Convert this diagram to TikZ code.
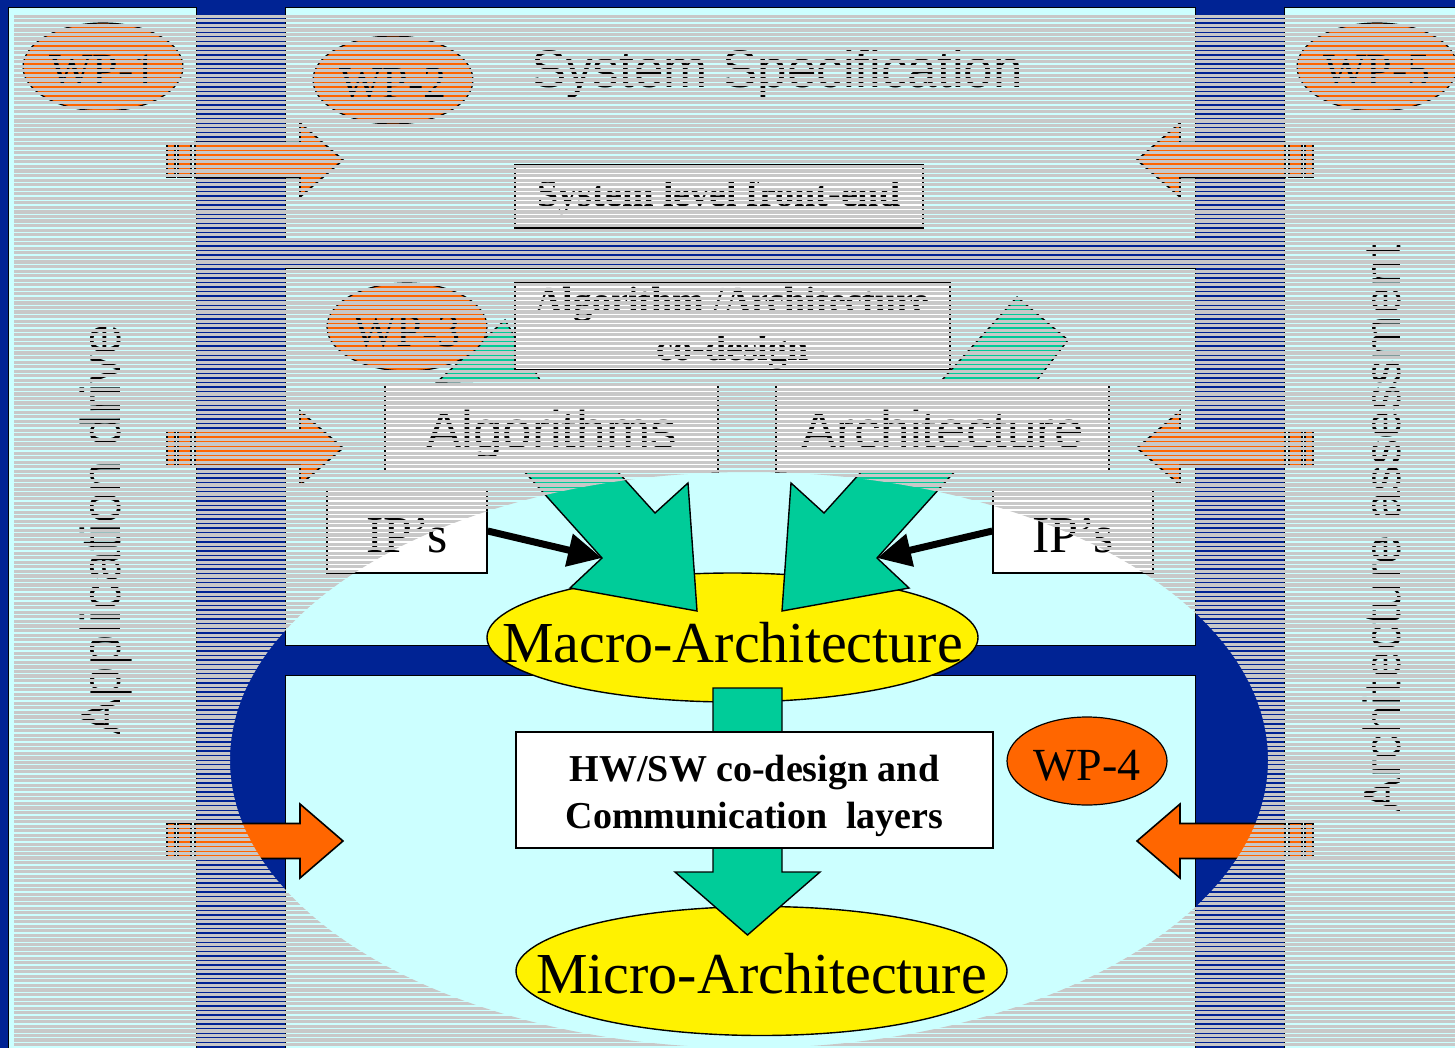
\documentclass[tikz,border=0pt]{standalone}
\usepackage{fontspec}
\setmainfont{Liberation Serif}
\setsansfont{Liberation Sans}
\usetikzlibrary{shapes.geometric,arrows.meta}
\definecolor{slideblue}{RGB}{0,35,148}
\definecolor{panelcyan}{RGB}{204,255,255}
\definecolor{wpgreen}{RGB}{0,204,153}
\definecolor{wporange}{RGB}{255,102,0}
\definecolor{stripegrey}{RGB}{200,200,200}
\tikzset{
  panel/.style={fill=panelcyan, draw=black, line width=0.5pt},
  wp/.style={ellipse, draw=black, fill=wporange, line width=0.6pt, minimum width=80pt, minimum height=44pt, inner sep=0pt, text height=19pt, text depth=0pt, font=\fontsize{23}{23}\selectfont},
  whitebox/.style={rectangle, draw=black, fill=white, line width=0.7pt, inner sep=0pt},
  boldtext/.style={font=\bfseries\fontsize{19}{23.5}\selectfont, align=center},
  sanstext/.style={font=\sffamily\fontsize{26.5}{26.5}\selectfont},
  archellipse/.style={ellipse, draw=black, fill=yellow, line width=0.7pt, minimum width=245.5pt, minimum height=64.5pt, inner sep=0pt, text depth=0pt, font=\fontsize{29}{29}\selectfont},
  greenarrow/.style={fill=wpgreen, draw=black, line width=0.7pt, line join=miter},
  orangearrow/.style={fill=wporange, draw=black, line width=0.8pt},
  iparrow/.style={line width=3.5pt, -{Triangle[length=17pt,width=16pt]}},
  stripe/.style={draw=stripegrey, line width=1.575pt},
  bararrow/.pic={
    \draw[orangearrow] (0,0) -- (-43,-37) -- (-43,-17.5) -- (-148,-17.5) -- (-148,17.5) -- (-43,17.5) -- (-43,37) -- cycle;
    \draw[orangearrow] (-152,-17.5) rectangle (-165,17.5);
    \draw[orangearrow] (-168,-17.5) rectangle (-176,17.5);
  }
}
\begin{document}
\begin{tikzpicture}[x=0.5pt,y=-0.5pt]
  \useasboundingbox (0,0) rectangle (1455,1048);
  %%%%% SLIDE %%%%%
  \fill[slideblue] (0,0) rectangle (1455,1048);
  \draw[panel] (8,8) rectangle (196,1052);
  \draw[panel] (285,8) rectangle (1195,240);
  \draw[panel] (285,268) rectangle (1195,645);
  \draw[panel] (285,675) rectangle (1195,1052);
  \draw[panel] (1284,8) rectangle (1460,1052);

  \node[wp] (wp1) at (103,67) {WP-1};
  \node[wp] (wp2) at (393,80) {WP-2};
  \node[wp] (wp5) at (1377,67) {WP-5};
  \node[sanstext] (spec) at (777,74) {System Specification};
  \node[whitebox, boldtext, text height=10.5pt, text depth=0pt, minimum width=204pt, minimum height=31.5pt] (front) at (719,196.5) {System level front-end};

  \draw[greenarrow] (505,320) -- (540,380) -- (437,382) -- cycle;
  \draw[greenarrow] (1017,297) -- (1068,340) -- (1037,380) -- (942,380) -- cycle;
  \node[wp] (wp3) at (407,327) {WP-3};
  \node[whitebox, boldtext, text height=33.5pt, text depth=0pt, minimum width=217.5pt, minimum height=43.5pt] (codesign) at (732.5,326.5) {Algorithm /Architecture\\co-design};

  %%%%% MACRO %%%%%
  \node[archellipse, text height=24.5pt] (macro) at (732.5,637.5) {\makebox[0pt]{Macro-Architecture}};
  \coordinate (lnotch) at (602,558);
  \coordinate (rnotch) at (877,558);
  \draw[greenarrow] (697,611) -- (570,588) -- (lnotch) -- (496,440) -- (589,440) -- (655,513) -- (688,483) -- cycle;
  \draw[greenarrow] (782,611) -- (909,588) -- (rnotch) -- (983,440) -- (890,440) -- (824,513) -- (791,483) -- cycle;
  \node[whitebox, sanstext, text height=20pt, text depth=0pt, minimum width=166.5pt, minimum height=44pt] (algo) at (551.5,428) {Algorithms};
  \node[whitebox, sanstext, text height=20pt, text depth=0pt, minimum width=166.5pt, minimum height=44pt] (arch) at (942.5,428) {Architecture};
  \node[whitebox, text height=21pt, text depth=0pt, minimum width=80pt, minimum height=42pt, font=\fontsize{26}{26}\selectfont] (ipl) at (407,531) {IP's};
  \node[whitebox, text height=21pt, text depth=0pt, minimum width=80pt, minimum height=42pt, font=\fontsize{26}{26}\selectfont] (ipr) at (1073,531) {IP's};
  \draw[iparrow] (ipl.east) -- (lnotch);
  \draw[iparrow] (ipr.west) -- (rnotch);

  %%%%% MICRO %%%%%
  \node[archellipse, text height=22pt] (micro) at (761.5,971) {\makebox[0pt]{Micro-Architecture}};
  \draw[greenarrow] (713,688) -- (782,688) -- (782,872) -- (820,872) -- (747.5,935) -- (675,872) -- (713,872) -- cycle;
  \node[whitebox, boldtext, text height=38pt, text depth=0pt, minimum width=238.5pt, minimum height=58pt] (hwsw) at (754.5,790) {HW/SW co-design and\\Communication\ \ layers};
  \node[wp] (wp4) at (1087,761) {WP-4};

  \foreach \y in {160,448,841} {
    \pic at (343,\y) {bararrow};
    \pic[xscale=-1] at (1137,\y) {bararrow};
  }
  \node[sanstext, font=\sffamily\fontsize{28}{28}\selectfont, rotate=90] (appl) at (106,530) {Application drive};
  \node[sanstext, font=\sffamily\fontsize{26}{26}\selectfont, rotate=90] (assess) at (1382,528) {Architecture assessment};

  %%%%% SPOTLIGHT %%%%%
  \begin{scope}[even odd rule]
    \clip (14,10) rectangle (1455,1048) (749,760) ellipse (519 and 288);
    \foreach \k in {0,...,228}
      \draw[stripe] (14,{16.3+4.55*\k}) -- (1455,{16.3+4.55*\k});
  \end{scope}
\end{tikzpicture}
\end{document}
